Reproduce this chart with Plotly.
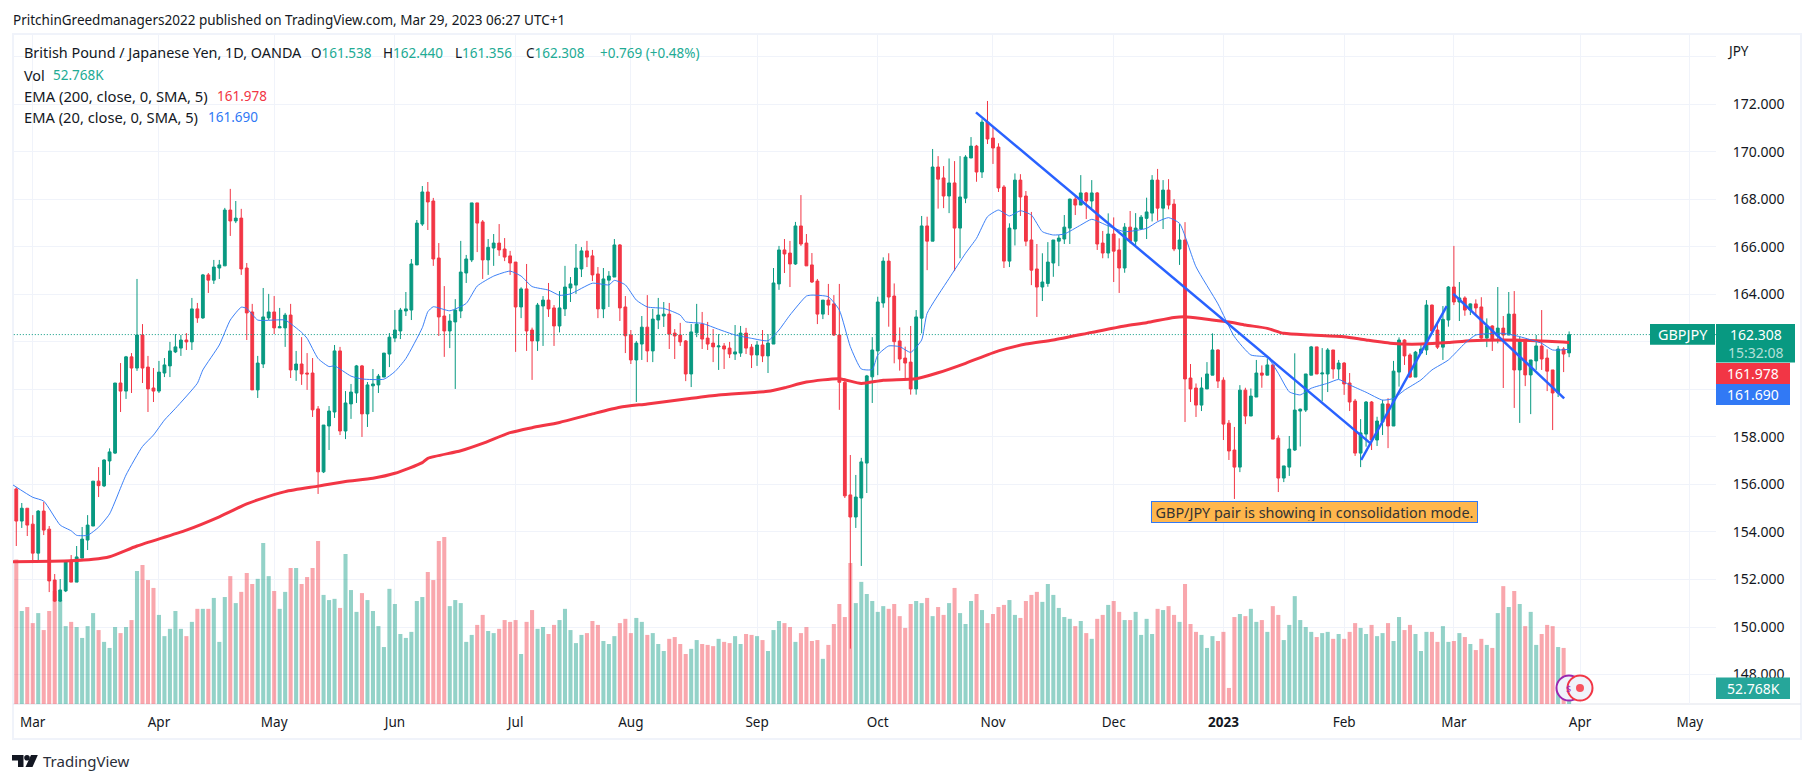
import pandas as pd
import plotly.graph_objects as go

opens = [155.81,154.46,155.0,154.33,153.11,154.88,154.12,151.98,151.09,151.52,
152.82,151.89,152.9,153.66,154.25,156.14,155.94,156.99,157.32,160.27,
159.93,161.37,160.9,162.29,160.94,160.06,159.93,160.69,160.99,161.58,
161.74,162.08,162.0,163.39,163.01,164.82,164.6,165.11,165.2,167.55,
167.09,167.21,165.11,163.26,159.98,161.07,163.01,163.26,162.59,162.59,
163.13,160.82,161.07,160.69,160.69,159.18,156.53,158.46,159.05,161.62,
158.25,159.39,159.85,160.99,158.97,160.15,160.19,160.52,161.49,162.16,
162.46,163.3,163.34,165.24,166.96,168.31,167.93,165.53,163.09,162.46,
162.84,163.3,164.9,165.45,167.85,167.05,165.45,165.95,166.16,165.91,
165.62,165.36,163.47,164.23,162.5,162.04,163.51,163.76,163.43,162.67,
163.39,164.27,164.39,165.07,165.83,165.62,164.86,163.39,164.6,164.73,
166.08,163.47,162.29,161.24,161.91,162.62,161.62,162.92,163.09,163.17,
162.37,162.29,162.04,160.65,162.38,162.75,162.16,161.95,161.79,161.83,
161.74,161.49,161.53,162.37,161.78,161.45,161.87,161.41,161.91,164.44,
165.87,165.74,165.28,166.88,166.16,165.24,164.56,163.17,163.76,163.6,
162.29,160.3,155.56,154.63,155.43,156.9,160.53,161.62,163.64,165.4,
163.93,162.04,161.32,161.15,160.02,163.0,166.88,166.24,169.36,168.9,
168.14,168.69,166.79,168.05,169.74,170.24,169.15,171.25,170.58,170.2,
168.52,165.4,166.75,168.81,168.14,166.29,165.07,164.31,164.46,165.32,
166.24,166.33,166.79,168.01,167.76,168.27,167.93,168.27,166.16,165.74,
166.54,165.87,165.11,166.83,166.24,166.75,167.2,167.42,168.81,167.63,
168.39,167.8,165.91,166.29,160.48,160.06,159.34,160.02,160.6,161.66,
160.39,158.58,157.45,156.73,159.97,158.88,159.68,160.69,160.6,161.03,
157.95,156.27,156.73,157.45,159.09,159.13,160.6,161.79,160.65,160.65,
161.66,160.86,161.11,160.27,159.51,157.32,158.12,159.47,157.87,158.63,
159.39,158.46,160.73,162.08,161.45,160.52,161.53,161.66,163.55,162.5,
161.78,162.92,164.31,163.68,163.85,163.34,163.6,163.47,162.16,162.67,
162.25,162.58,162.29,163.17,160.82,162.08,160.61,161.2,161.83,161.32,
160.82,159.85,161.7,161.538]

highs = [155.88,155.22,155.0,154.71,154.92,155.26,154.25,152.23,152.02,152.78,
153.03,153.41,154.21,154.71,156.14,156.73,157.06,157.52,160.27,161.11,
161.41,161.53,164.65,162.75,161.41,160.9,161.2,161.32,162.0,162.33,
162.29,162.37,163.85,163.64,164.86,164.9,165.45,165.45,167.64,168.44,
167.93,167.6,165.32,163.6,161.41,164.27,164.02,163.93,163.43,163.22,
163.6,161.62,162.2,161.53,161.32,159.3,158.5,159.3,161.87,161.79,
159.93,160.23,161.03,161.03,160.31,160.86,160.65,161.53,162.37,163.34,
163.43,164.1,165.49,167.13,168.56,168.73,168.06,166.16,164.35,163.17,
163.8,166.25,165.66,167.85,167.85,167.13,166.33,166.54,166.96,166.37,
165.83,165.36,164.3,165.28,162.6,163.64,163.93,164.48,163.55,164.14,
165.2,164.73,166.12,165.99,166.25,165.87,165.15,165.11,164.98,166.33,
166.12,163.93,162.5,162.04,163.09,163.97,163.39,163.85,163.68,163.64,
162.54,162.8,162.08,162.75,163.6,163.26,162.84,162.54,162.33,161.95,
162.0,162.71,162.67,162.59,161.91,162.04,162.5,162.33,165.11,166.04,
166.33,166.25,167.05,168.18,166.54,165.74,164.65,163.76,164.44,163.97,
164.44,160.47,157.24,156.4,157.12,160.61,162.2,163.9,165.56,165.73,
164.46,162.61,161.8,162.67,163.34,167.3,167.27,170.12,169.82,169.4,
169.72,169.61,169.82,169.86,170.62,170.29,171.37,172.14,171.03,170.36,
168.6,166.99,169.09,169.06,168.35,167.47,166.12,165.73,166.2,166.29,
166.5,167.34,168.03,168.14,169.02,168.31,168.81,168.31,166.67,167.41,
167.24,166.36,167.0,167.51,167.42,167.34,168.07,169.02,169.28,168.81,
168.85,168.01,166.96,167.04,161.07,160.25,160.51,161.15,162.36,161.69,
160.51,158.71,158.42,160.18,160.07,160.04,161.24,161.01,161.31,161.05,
158.07,156.78,158.04,161.52,159.19,160.65,161.83,161.79,161.74,161.74,
161.66,161.24,161.15,160.69,159.6,158.75,159.51,159.51,158.85,159.56,
159.63,161.2,162.19,162.11,161.52,161.62,161.87,163.76,163.57,162.84,
163.51,164.35,166.04,164.52,163.92,163.62,163.79,163.88,162.99,162.7,
164.31,163.09,164.1,164.14,162.22,162.11,161.24,162.29,163.34,161.69,
160.82,161.83,161.78,162.44]

lows = [153.41,154.17,153.83,152.69,152.82,153.87,151.47,151.05,151.05,151.47,
151.89,151.89,152.9,153.24,154.25,155.47,155.89,156.4,157.28,159.05,
159.6,159.85,160.78,160.27,159.05,159.47,159.85,160.52,160.52,161.53,
161.41,161.66,161.66,162.8,162.97,164.06,164.44,164.65,165.2,166.46,
167.0,164.82,162.08,159.98,159.64,160.9,162.92,162.33,162.59,161.79,
160.48,160.36,160.19,159.98,158.84,155.6,156.48,157.45,158.8,158.08,
157.91,158.76,159.43,158.0,158.42,159.05,159.85,160.52,160.94,161.99,
162.12,163.09,162.92,165.24,166.88,166.71,165.2,162.25,161.37,161.74,
160.02,163.0,164.48,165.36,165.78,164.65,164.82,165.2,165.62,165.4,
164.82,161.58,163.0,161.62,160.4,161.62,161.83,163.05,161.83,162.4,
163.09,163.68,164.02,164.73,165.15,164.56,163.0,163.0,163.47,164.73,
162.88,161.53,161.07,159.47,161.24,161.15,161.15,162.54,162.63,161.7,
161.28,161.83,160.35,160.1,162.2,161.7,161.66,161.15,160.82,160.86,
161.32,161.24,161.37,161.49,160.9,160.99,161.15,160.69,161.91,164.19,
164.9,164.31,165.24,166.04,165.2,164.48,162.75,162.96,163.13,162.25,
159.14,155.43,149.09,154.17,152.57,155.64,159.43,160.6,163.44,162.64,
161.1,160.79,160.39,159.78,159.78,162.36,165.02,166.24,167.61,167.63,
167.42,164.98,165.52,167.84,169.74,168.74,168.9,170.33,169.49,168.31,
165.11,165.15,166.06,167.3,166.03,164.39,163.05,163.72,164.32,164.74,
165.19,166.12,166.12,167.34,167.76,167.17,167.63,165.87,165.52,165.52,
164.52,164.06,164.91,166.15,166.08,166.71,166.33,167.07,167.1,166.75,
167.58,165.82,165.24,158.63,159.47,158.84,159.09,160.02,160.6,160.06,
157.87,157.03,155.39,156.52,158.54,158.88,159.68,160.07,160.6,157.91,
155.68,156.1,156.36,157.41,157.6,159.05,160.6,160.65,159.5,159.89,
160.45,160.44,159.77,159.09,157.2,156.73,157.59,157.45,157.62,158.08,
157.53,158.46,160.12,161.03,160.48,160.52,161.53,161.45,162.42,161.7,
161.24,162.64,163.55,162.88,163.1,163.13,163.13,162.08,161.78,161.62,
161.94,160.06,162.29,159.22,158.59,160.14,158.96,160.82,160.82,159.93,
158.29,159.68,160.73,161.356]

closes = [154.46,155.0,154.29,153.11,154.88,154.08,151.94,151.09,151.56,152.78,
151.89,152.95,153.7,154.29,156.14,155.95,157.03,157.37,160.27,159.93,
161.37,160.9,162.29,160.9,160.02,159.93,160.73,161.03,161.62,161.79,
162.08,162.0,163.39,163.01,164.82,164.6,165.15,165.24,167.55,167.09,
167.21,165.07,163.22,159.98,161.11,163.05,163.26,162.59,162.64,163.13,
160.82,161.07,160.65,160.65,159.14,156.53,158.5,159.09,161.62,158.25,
159.43,159.89,160.99,158.97,160.19,160.23,160.56,161.53,162.2,162.5,
163.34,163.39,165.28,167.0,168.31,167.89,165.49,163.05,162.46,162.88,
163.34,164.94,165.49,167.85,167.0,165.45,165.98,166.16,165.87,165.57,
165.32,163.47,164.23,162.46,162.04,163.55,163.76,163.39,162.67,163.43,
164.31,164.44,165.11,165.83,165.57,164.82,163.39,164.65,164.77,166.08,
163.43,162.26,161.24,161.95,162.62,161.62,162.96,163.13,163.17,162.33,
162.25,162.0,160.65,162.42,162.75,162.12,161.91,161.79,161.83,161.7,
161.49,161.58,162.37,161.74,161.45,161.87,161.41,161.95,164.48,165.87,
165.7,165.28,166.88,166.12,165.2,164.52,163.17,163.76,163.55,162.29,
160.3,155.52,154.63,155.47,156.95,160.57,161.66,163.68,165.4,163.89,
162.01,161.28,161.11,160.02,163.05,166.88,166.24,169.36,168.85,168.14,
168.69,166.79,168.1,169.78,170.24,169.15,171.25,170.54,170.16,168.48,
165.4,166.79,168.81,168.1,166.24,165.02,164.31,164.52,165.36,166.29,
166.37,166.83,168.01,167.76,168.27,167.93,168.27,166.12,165.74,166.54,
165.82,165.11,166.83,166.24,166.79,167.25,167.47,168.81,167.63,168.39,
167.76,165.91,166.29,160.44,160.02,159.34,160.06,160.65,161.66,160.35,
158.54,157.41,156.73,159.97,158.88,159.72,160.69,160.6,161.03,157.91,
156.27,156.78,157.49,159.13,159.17,160.65,161.79,160.65,160.69,161.66,
160.86,161.11,160.23,159.47,157.32,158.17,159.47,157.87,158.67,159.39,
158.46,160.77,162.08,161.41,160.52,161.57,161.7,163.55,162.46,161.78,
162.95,164.31,163.68,163.85,163.34,163.6,163.43,162.16,162.67,162.08,
162.58,162.29,163.17,160.82,162.08,160.61,161.24,161.83,161.28,160.77,
159.85,161.7,161.49,162.308]

volumes_k = [477,307,320,267,300,244,307,373,343,257,271,254,218,257,300,244,205,185,254,234,
254,277,439,459,409,383,294,224,248,307,248,224,271,314,314,314,350,205,353,422,
333,370,432,396,413,531,422,373,314,370,449,449,396,419,449,538,360,343,347,317,
495,376,304,366,343,307,257,188,380,330,231,218,238,340,353,436,409,538,551,323,
343,333,205,228,261,294,241,234,248,277,271,277,165,271,310,248,254,231,261,277,
314,244,201,228,234,274,261,208,198,224,267,281,234,284,271,228,234,198,175,215,
221,198,165,182,211,198,195,191,215,205,201,224,198,231,228,224,211,175,244,274,
267,254,205,234,254,208,211,149,195,264,330,287,465,333,403,363,340,304,323,314,
330,290,251,330,340,333,350,290,320,294,333,383,300,264,340,363,310,267,297,320,
327,343,294,284,340,360,370,337,396,360,317,287,281,257,274,234,215,281,294,327,
340,304,277,277,304,228,281,231,314,310,323,294,271,396,264,238,228,185,224,208,
238,53,287,297,290,314,271,277,238,323,294,211,261,356,277,254,238,221,234,238,
215,231,215,238,267,251,231,261,224,234,267,208,287,244,261,231,175,238,238,205,
257,205,208,234,221,198,178,215,195,185,300,389,320,373,330,257,304,195,231,261,
257,188,185,52.768]

ema200_bar = [-0.6,10,14,17,22,31,37,42,44,49,55,60,65,69,74,75,81,85,90,94,99,105,110,115,122,128,137,140,144,150,154,158,164,168,173,179,184,189,196,202,206,211,213,217,221,224,228,231,236,242,246,251,256,261,265,271,277,283]
ema200_val = [152.75,152.79,152.85,152.96,153.41,154.08,154.64,155.18,155.35,155.7,155.93,156.12,156.26,156.47,156.92,157.1,157.42,157.73,158.18,158.39,158.61,158.97,159.25,159.39,159.6,159.77,159.92,160.07,160.31,160.45,160.25,160.39,160.45,160.7,161.1,161.62,161.91,162.08,162.4,162.67,162.81,163.03,163.06,162.95,162.84,162.71,162.57,162.36,162.29,162.22,162.08,161.93,161.91,161.97,162.05,162.08,162.05,161.978]

ema20_bar = [-0.6,3,5,8,10,11,13,15,17,20,23,25,27,29,33,34,37,39,41,42,44,47,49,52,53,55,57,58,61,63,67,69,71,74,75,76,79,82,84,87,90,92,94,97,99,101,105,108,109,111,113,115,118,121,122,125,128,131,134,137,139,141,144,145,148,150,152,154,156,157,159,161,163,165,166,170,173,175,177,179,181,183,185,187,189,191,194,196,199,202,206,208,210,212,215,219,222,225,228,230,232,234,236,239,241,243,246,249,251,253,256,258,261,264,266,271,274,278,280,283]
ema20_val = [155.98,155.46,155.3,154.29,154.05,153.86,153.86,154.2,154.76,156.4,157.6,158.08,158.71,159.2,160.26,160.82,161.87,162.92,163.46,163.41,162.92,162.92,162.92,162.4,162.15,161.3,160.96,160.99,160.56,160.44,160.43,160.75,161.3,162.6,163.27,163.48,163.31,163.62,164.35,164.77,164.98,164.77,164.33,164.18,163.96,164.02,164.47,164.4,164.59,164.4,163.76,163.47,163.41,163.13,162.85,162.78,162.53,162.29,162.15,162.05,162.5,163.13,163.93,163.97,163.9,163.34,161.8,160.86,160.84,161.45,161.83,161.8,161.56,162.08,163.2,164.67,165.73,166.36,167.27,167.55,167.3,167.52,167.34,166.64,166.5,166.54,166.92,167.16,166.88,166.64,166.78,167.06,167.23,166.99,165.16,163.6,162.22,161.45,161.35,160.68,159.9,159.77,160.05,160.26,160.42,160.19,159.88,159.55,159.62,159.97,160.4,160.82,161.24,161.94,162.29,162.36,162.22,161.94,161.66,161.69]

trend_a_bar = [174.9, 246.8]
trend_a_val = [171.66, 157.73]
trend_b_bar = [245.1, 260.7]
trend_b_val = [157.03, 163.51]
trend_c_bar = [261.9, 282.1]
trend_c_val = [164.02, 159.62]

tick_dates = ["2022-03-01","2022-04-01","2022-05-02","2022-06-01","2022-07-01","2022-08-01","2022-09-01","2022-10-03","2022-11-01","2022-12-01","2023-01-02","2023-02-01","2023-03-01","2023-04-03","2023-05-01"]
tick_labels = ["Mar","Apr","May","Jun","Jul","Aug","Sep","Oct","Nov","Dec","<b>2023</b>","Feb","Mar","Apr","May"]
closed_days = ["2022-12-26","2022-12-30"]
price_ticks = [148,150,152,154,156,158,160,162,164,166,168,170,172,174]
price_tick_text = ["148.000","150.000","152.000","154.000","156.000","158.000","","","164.000","166.000","168.000","170.000","172.000",""]
last_price = 162.308

UP, DOWN = "#089981", "#f23645"
BLUE = "#3179f5"
GRID = "#f0f3fa"
INK = "#131722"
FONT = "Noto Sans"
W, H = 1814, 783
PL, PR, PT, PB = 13, 1716, 34, 704

bar_index = list(range(len(closes)))
calendar = pd.bdate_range("2022-02-24", periods=315).drop(pd.to_datetime(closed_days))
tick_pos = [int(calendar.get_loc(pd.Timestamp(d))) for d in tick_dates]

def fx(p): return p / W
def fy(p): return 1 - p / H

fig = go.Figure()
fig.add_trace(go.Bar(x=bar_index, y=volumes_k, width=0.74, yaxis="y",
    marker=dict(color=[f"rgba(8,153,129,.44)" if c >= o else "rgba(242,54,69,.44)" for o, c in zip(opens, closes)], line_width=0),
    name="Vol", hoverinfo="skip"))
fig.add_trace(go.Candlestick(x=bar_index, open=opens, high=highs, low=lows, close=closes, yaxis="y2", name="GBPJPY",
    increasing=dict(line=dict(color=UP, width=1), fillcolor=UP),
    decreasing=dict(line=dict(color=DOWN, width=1), fillcolor=DOWN),
    whiskerwidth=0, hoverinfo="skip"))
fig.add_trace(go.Scatter(x=[-1, 311], y=[last_price, last_price], yaxis="y2", mode="lines",
    line=dict(color=UP, width=1, dash="1px 2px"), hoverinfo="skip"))
fig.add_trace(go.Scatter(x=ema200_bar, y=ema200_val, yaxis="y2", mode="lines", line=dict(color=DOWN, width=3, shape="spline", smoothing=0.6), hoverinfo="skip"))
fig.add_trace(go.Scatter(x=ema20_bar, y=ema20_val, yaxis="y2", mode="lines", line=dict(color=BLUE, width=1, shape="spline", smoothing=0.5), opacity=0.95, hoverinfo="skip"))
for bx, bv in [(trend_a_bar, trend_a_val), (trend_b_bar, trend_b_val), (trend_c_bar, trend_c_val)]:
    fig.add_trace(go.Scatter(x=bx, y=bv, yaxis="y2", mode="lines", line=dict(color="#2962ff", width=2.5), hoverinfo="skip"))

def rect(x0, y0, x1, y1, fill=None, line=None, lw=0):
    return dict(type="rect", xref="paper", yref="paper", x0=fx(x0), x1=fx(x1), y0=fy(y1), y1=fy(y0),
                fillcolor=fill or "rgba(0,0,0,0)", line=dict(color=line or "rgba(0,0,0,0)", width=lw), layer="above")

def circle(cx, cy, r, fill, line=None, lw=0):
    return dict(type="circle", xref="paper", yref="paper", x0=fx(cx-r), x1=fx(cx+r), y0=fy(cy+r), y1=fy(cy-r),
                fillcolor=fill, line=dict(color=line or "rgba(0,0,0,0)", width=lw), layer="above")

def poly(points, fill):
    path = "M " + " L ".join(f"{fx(x):.5f},{fy(y):.5f}" for x, y in points) + " Z"
    return dict(type="path", xref="paper", yref="paper", path=path, fillcolor=fill, line=dict(width=0), layer="above")

shapes = [
    dict(type="rect", xref="paper", yref="paper", x0=fx(13), x1=fx(1801), y0=fy(739), y1=fy(34), line=dict(color=GRID, width=2), fillcolor="rgba(0,0,0,0)", layer="below"),
    dict(type="line", xref="paper", yref="paper", x0=fx(13), x1=fx(1801), y0=fy(704), y1=fy(704), line=dict(color="#e0e3eb", width=1), layer="below"),
    rect(1650, 324, 1715, 344.7, fill=UP),
    rect(1716, 324, 1795, 362.5, fill=UP),
    rect(1716, 363, 1790, 384, fill=DOWN),
    rect(1716, 384, 1790, 405, fill=BLUE),
    rect(1716, 677.5, 1790, 699, fill="#26a69a"),
    circle(1569, 688, 12.5, "#f0f3fa", "#9c27b0", 2),
    circle(1580, 688, 12.5, "#f0f3fa", DOWN, 2),
    circle(1580, 688, 4, "#f7525f"),
    # TradingView mark
    poly([(12, 755), (23.5, 755), (23.5, 767), (18, 767), (18, 760.5), (12, 760.5)], INK),
    circle(27, 757.8, 2.8, INK),
    poly([(31, 755), (37.8, 755), (32.5, 767), (25.5, 767)], INK),
]

anns = []
def text(x, y, s, size=13.5, color=INK, anchor="left", family=FONT):
    anns.append(dict(xref="paper", yref="paper", x=fx(x), y=fy(y), text=s, showarrow=False, xanchor=anchor, yanchor="middle",
                     font=dict(family=family, size=size, color=color), borderpad=0, borderwidth=0))

GREEN_TXT = "#22ab94"
def kv(k, v): return f"<span style='color:{INK}'>{k}</span><span style='color:{GREEN_TXT}'>{v}</span>"

text(13, 20, "PritchinGreedmanagers2022 published on TradingView.com, Mar 29, 2023 06:27 UTC+1", size=13.5)
text(23.5, 53, "British Pound / Japanese Yen, 1D, OANDA", size=14.4)
text(310.7, 53, kv("O", "161.538"))
text(382.7, 53, kv("H", "162.440"))
text(454.7, 53, kv("L", "161.356"))
text(526, 53, kv("C", "162.308"))
text(599.5, 53, "+0.769 (+0.48%)", color=GREEN_TXT)
text(23.5, 75, "Vol", size=14.4)
text(52.7, 75, "52.768K", color=GREEN_TXT)
text(23.5, 96, "EMA (200, close, 0, SMA, 5)", size=14.8)
text(216.7, 96, "161.978", color=DOWN)
text(23.5, 117, "EMA (20, close, 0, SMA, 5)", size=14.7)
text(208, 117, "161.690", color=BLUE)
text(1727, 51, "JPY")
text(1682.5, 334.5, "GBPJPY", size=14.4, color="#ffffff", anchor="center")
text(1755.5, 334.5, "162.308", size=14, color="#ffffff", anchor="center")
text(1755.5, 352.5, "15:32:08", size=14, color="rgba(255,255,255,.7)", anchor="center")
text(1753, 373.5, "161.978", size=14, color="#ffffff", anchor="center")
text(1753, 394.5, "161.690", size=14, color="#ffffff", anchor="center")
text(1753, 688.5, "52.768K", size=14, color="#ffffff", anchor="center")
text(1568, 688, "$", size=9, color="#9c27b0", anchor="center")
text(43, 761, "TradingView", size=15, color="#2a2e39")
anns.append(dict(xref="paper", yref="paper", x=fx(1314.5), y=fy(511.7), text="GBP/JPY pair is showing in consolidation mode.", showarrow=False,
                 xanchor="center", yanchor="middle", font=dict(family=FONT, size=14.4, color="#333333"), bgcolor="#ffb74d", bordercolor="#3179f5", borderwidth=1, borderpad=1, width=323, height=18))

fig.update_layout(
    width=W, height=H, autosize=False, margin=dict(l=0, r=0, t=0, b=0, pad=0),
    paper_bgcolor="#ffffff", plot_bgcolor="#ffffff", showlegend=False, boxgap=0.27, bargap=0.26,
    font=dict(family=FONT, size=13.5, color=INK),
    xaxis=dict(domain=[fx(PL), fx(PR)], range=[-0.6, 309.77], tickmode="array", tickvals=tick_pos, ticktext=tick_labels,
               showgrid=True, gridcolor=GRID, gridwidth=1, zeroline=False, showline=False, ticks="outside", ticklen=6,
               tickcolor="rgba(0,0,0,0)", rangeslider=dict(visible=False), fixedrange=True, tickfont=dict(color=INK, size=13.5, family=FONT)),
    yaxis=dict(domain=[fy(PB), fy(PT)], range=[0, 2211], showgrid=False, zeroline=False, showticklabels=False, showline=False, fixedrange=True),
    yaxis2=dict(domain=[fy(PB), fy(PT)], overlaying="y", side="right", anchor="x", range=[146.76, 174.959], tickmode="array",
                tickvals=price_ticks, ticktext=price_tick_text, showgrid=True, gridcolor=GRID, gridwidth=1, zeroline=False, showline=False,
                ticks="outside", ticklen=13, tickcolor="rgba(0,0,0,0)", fixedrange=True, tickfont=dict(color=INK, size=14, family=FONT)),
    shapes=shapes, annotations=anns,
)
fig.write_html("out.html", config=dict(displayModeBar=False, staticPlot=True),
               post_script="document.body.style.margin='0';document.body.style.overflow='hidden';")
